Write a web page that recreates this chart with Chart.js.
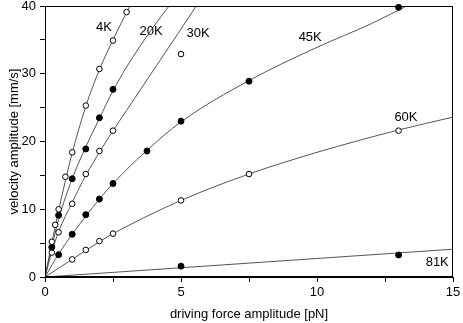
<!DOCTYPE html>
<html>
<head>
<meta charset="utf-8">
<script src="https://cdn.jsdelivr.net/npm/chart.js@4.4.0/dist/chart.umd.min.js"></script>
<style>
  html, body { margin: 0; padding: 0; background: #fff; }
</style>
</head>
<body>
<canvas id="grafico" width="463" height="323"></canvas>
<script>
// Mediciones: fuerza [pN] -> velocidad [mm/s]
const x4K = [0.25, 0.375, 0.5, 0.75, 1, 1.5, 2, 2.5, 3];
const y4K = [5.2, 7.7, 10.0, 14.8, 18.4, 25.3, 30.7, 34.9, 39.1];
const x20K = [0.25, 0.5, 1, 1.5, 2, 2.5];
const y20K = [4.4, 9.1, 14.5, 18.9, 23.5, 27.7];
const x30K = [0.25, 0.5, 1, 1.5, 2, 2.5, 5];
const y30K = [3.6, 6.6, 10.8, 15.2, 18.6, 21.6, 32.9];
const x45K = [0.5, 1, 1.5, 2, 2.5, 3.75, 5, 7.5, 13];
const y45K = [3.3, 6.3, 9.2, 11.5, 13.8, 18.6, 23.0, 28.9, 39.8];
const x60K = [1, 1.5, 2, 2.5, 5, 7.5, 13];
const y60K = [2.6, 4.0, 5.3, 6.4, 11.3, 15.2, 21.6];
const x81K = [5, 13];
const y81K = [1.6, 3.25];

// Curvas de ajuste
const ajX4K = [0, 0.5, 1, 1.5, 2, 2.5, 3.12];
const ajY4K = [0, 9.8, 18.3, 25.2, 30.6, 35.0, 40];
const ajX20K = [0, 0.5, 1, 1.5, 2, 2.5, 3, 3.5, 4, 4.56];
const ajY20K = [0, 8.5, 14.5, 19.2, 23.4, 27.5, 31.0, 34.1, 37.0, 40];
const ajX30K = [0, 0.25, 0.5, 1, 1.5, 2, 2.5, 3, 4, 5, 5.56];
const ajY30K = [0, 3.7, 6.7, 11.0, 15.0, 18.4, 21.6, 24.6, 30.6, 36.6, 40];
const ajX45K = [0, 0.5, 1, 1.5, 2, 2.5, 3.75, 5, 7.5, 10, 12, 13.3];
const ajY45K = [0, 3.4, 6.3, 9.0, 11.5, 13.8, 18.7, 22.9, 29.0, 33.9, 37.4, 40];
const ajX60K = [0, 1, 2, 2.5, 5, 7.5, 10, 13, 15];
const ajY60K = [0, 2.6, 5.2, 6.4, 11.3, 15.2, 18.4, 21.7, 23.6];
const ajX81K = [0, 15];
const ajY81K = [0, 4.1];

// Etiquetas de las curvas
const etiquetas = ['4K', '20K', '30K', '45K', '60K', '81K'];
const etiquetaX = [2.17, 3.9, 5.63, 9.75, 13.27, 14.42];
const etiquetaY = [36.8, 36.3, 35.9, 35.3, 23.6, 2.2];

const fuente = 'Liberation Sans, Arial, sans-serif';

function puntos(xs, ys) {
    return xs.map((x, i) => ({ x: x, y: ys[i] }));
}

function medidas(xs, ys, lleno) {
    return {
        data: puntos(xs, ys),
        showLine: false,
        pointRadius: lleno ? 3 : 2.8,
        pointBorderWidth: 1,
        pointBorderColor: '#000',
        pointBackgroundColor: lleno ? '#000' : '#fff',
        clip: false,
        order: 1
    };
}

function ajuste(xs, ys) {
    return {
        data: puntos(xs, ys),
        showLine: true,
        borderColor: '#555',
        borderWidth: 1,
        pointRadius: 0,
        cubicInterpolationMode: 'monotone',
        order: 2
    };
}

// Marco y etiquetas de texto
const marco = {
    id: 'marco',
    afterDraw(chart) {
        const { ctx, chartArea: a, scales } = chart;
        ctx.save();
        ctx.strokeStyle = '#000';
        ctx.lineWidth = 1;
        ctx.strokeRect(Math.round(a.left) + 0.5, Math.round(a.top) + 0.5,
            Math.round(a.right - a.left) - 1, Math.round(a.bottom - a.top) - 1);
        ctx.fillStyle = '#000';
        ctx.font = '13px ' + fuente;
        ctx.textAlign = 'center';
        ctx.textBaseline = 'middle';
        etiquetas.forEach((t, i) => {
            ctx.fillText(t, scales.x.getPixelForValue(etiquetaX[i]), scales.y.getPixelForValue(etiquetaY[i]));
        });
        ctx.restore();
    }
};

new Chart(document.getElementById('grafico'), {
    type: 'scatter',
    data: {
        datasets: [
            medidas(x4K, y4K, false),
            medidas(x20K, y20K, true),
            medidas(x30K, y30K, false),
            medidas(x45K, y45K, true),
            medidas(x60K, y60K, false),
            medidas(x81K, y81K, true),
            ajuste(ajX4K, ajY4K),
            ajuste(ajX20K, ajY20K),
            ajuste(ajX30K, ajY30K),
            ajuste(ajX45K, ajY45K),
            ajuste(ajX60K, ajY60K),
            ajuste(ajX81K, ajY81K)
        ]
    },
    options: {
        responsive: false,
        animation: false,
        layout: { padding: { top: 6, right: 10, left: 0, bottom: 0 } },
        plugins: { legend: { display: false }, tooltip: { enabled: false } },
        scales: {
            x: {
                type: 'linear',
                min: 0,
                max: 15,
                afterFit: s => { s.height = 46; s.paddingLeft = 0; s.paddingRight = 0; },
                ticks: {
                    stepSize: 2.5,
                    autoSkip: false,
                    maxRotation: 0,
                    padding: 3,
                    color: '#000',
                    font: { family: fuente, size: 13 },
                    callback: v => (v % 5 === 0 ? v : '')
                },
                grid: { drawOnChartArea: false, tickLength: 5, color: '#000' },
                border: { color: '#000' },
                title: {
                    display: true,
                    text: 'driving force amplitude [pN]',
                    color: '#000',
                    font: { family: fuente, size: 13 },
                    padding: { top: 2, bottom: 1 }
                }
            },
            y: {
                type: 'linear',
                min: 0,
                max: 40,
                afterFit: s => { s.width = 45; s.paddingTop = 0; s.paddingBottom = 0; },
                ticks: {
                    stepSize: 5,
                    autoSkip: false,
                    padding: 4,
                    color: '#000',
                    font: { family: fuente, size: 13 },
                    callback: v => (v % 10 === 0 ? v : '')
                },
                grid: { drawOnChartArea: false, tickLength: 5, color: '#000' },
                border: { color: '#000' },
                title: {
                    display: true,
                    text: 'velocity amplitude [mm/s]',
                    color: '#000',
                    font: { family: fuente, size: 13 },
                    padding: { top: 7, bottom: 0 }
                }
            }
        }
    },
    plugins: [marco]
});
</script>
</body>
</html>
